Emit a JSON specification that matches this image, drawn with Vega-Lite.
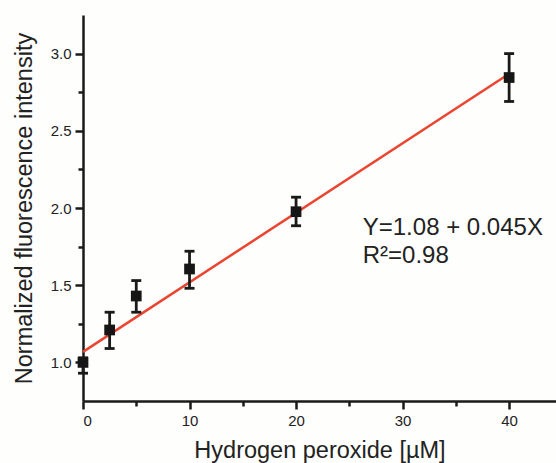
{
  "$schema": "https://vega.github.io/schema/vega-lite/v6.json",
  "width": 473,
  "height": 386,
  "autosize": {"type": "none"},
  "padding": {"left": 83, "top": 15, "right": 0, "bottom": 62},
  "background": "#fefefc",
  "config": {
    "view": {"stroke": null},
    "font": "Liberation Sans",
    "axis": {
      "domainColor": "#1a1a1a",
      "domainWidth": 2.5,
      "tickColor": "#1a1a1a",
      "tickWidth": 2.5,
      "labelColor": "#222222",
      "labelFont": "Liberation Sans",
      "labelFontSize": 15,
      "titleFont": "Liberation Sans",
      "titleFontSize": 23.5,
      "titleFontWeight": "normal",
      "titleColor": "#222222",
      "grid": false
    }
  },
  "datasets": {
    "points": [
      {"x": 0, "y": 1.0, "lo": 0.93, "hi": 1.03},
      {"x": 2.5, "y": 1.21, "lo": 1.09, "hi": 1.325},
      {"x": 5, "y": 1.43, "lo": 1.325, "hi": 1.53},
      {"x": 10, "y": 1.605, "lo": 1.48, "hi": 1.72},
      {"x": 20, "y": 1.976, "lo": 1.885, "hi": 2.07},
      {"x": 40, "y": 2.845, "lo": 2.69, "hi": 3.0}
    ],
    "fit": [
      {"x": 0, "y": 1.068},
      {"x": 40, "y": 2.87}
    ],
    "labels": [
      {"x": 26.26, "y": 1.828, "t": "Y=1.08 + 0.045X"},
      {"x": 26.26, "y": 1.645, "t": "R²=0.98"}
    ]
  },
  "layer": [
    {
      "data": {"name": "fit"},
      "mark": {"type": "line", "color": "#ea4530", "strokeWidth": 2.5},
      "encoding": {
        "x": {
          "field": "x", "type": "quantitative",
          "scale": {"domain": [0, 44.4], "nice": false, "zero": false},
          "axis": {
            "values": [0, 5, 10, 15, 20, 25, 30, 35, 40],
            "labelExpr": "datum.value % 10 == 0 ? format(datum.value, 'd') : ''",
            "tickSize": {"condition": {"test": "datum.value % 10 != 0", "value": 5}, "value": 8},
            "labelPadding": 4,
            "title": "Hydrogen peroxide [µM]",
            "titlePadding": 10
          }
        },
        "y": {
          "field": "y", "type": "quantitative",
          "scale": {"domain": [0.75, 3.25], "nice": false, "zero": false},
          "axis": {
            "values": [1.0, 1.25, 1.5, 1.75, 2.0, 2.25, 2.5, 2.75, 3.0],
            "labelExpr": "datum.value % 0.5 == 0 ? format(datum.value, '.1f') : ''",
            "tickSize": {"condition": {"test": "datum.value % 0.5 != 0", "value": 5}, "value": 8},
            "labelPadding": 4,
            "title": "Normalized fluorescence intensity",
            "titlePadding": 14
          }
        }
      }
    },
    {
      "data": {"name": "points"},
      "mark": {
        "type": "errorbar",
        "color": "#1a1a1a",
        "opacity": 1,
        "thickness": 2.8,
        "rule": {"opacity": 1, "color": "#1a1a1a"},
        "ticks": {"size": 10, "thickness": 2.8, "color": "#1a1a1a", "opacity": 1}
      },
      "encoding": {
        "x": {"field": "x", "type": "quantitative"},
        "y": {"field": "lo", "type": "quantitative", "title": "Normalized fluorescence intensity"},
        "y2": {"field": "hi"}
      }
    },
    {
      "data": {"name": "points"},
      "mark": {"type": "square", "filled": true, "color": "#161616", "opacity": 1, "size": 115},
      "encoding": {
        "x": {"field": "x", "type": "quantitative"},
        "y": {"field": "y", "type": "quantitative"}
      }
    },
    {
      "data": {"name": "labels"},
      "mark": {"type": "text", "align": "left", "baseline": "alphabetic", "font": "Liberation Sans", "fontSize": 24, "color": "#222222"},
      "encoding": {
        "x": {"field": "x", "type": "quantitative"},
        "y": {"field": "y", "type": "quantitative"},
        "text": {"field": "t"}
      }
    }
  ]
}
